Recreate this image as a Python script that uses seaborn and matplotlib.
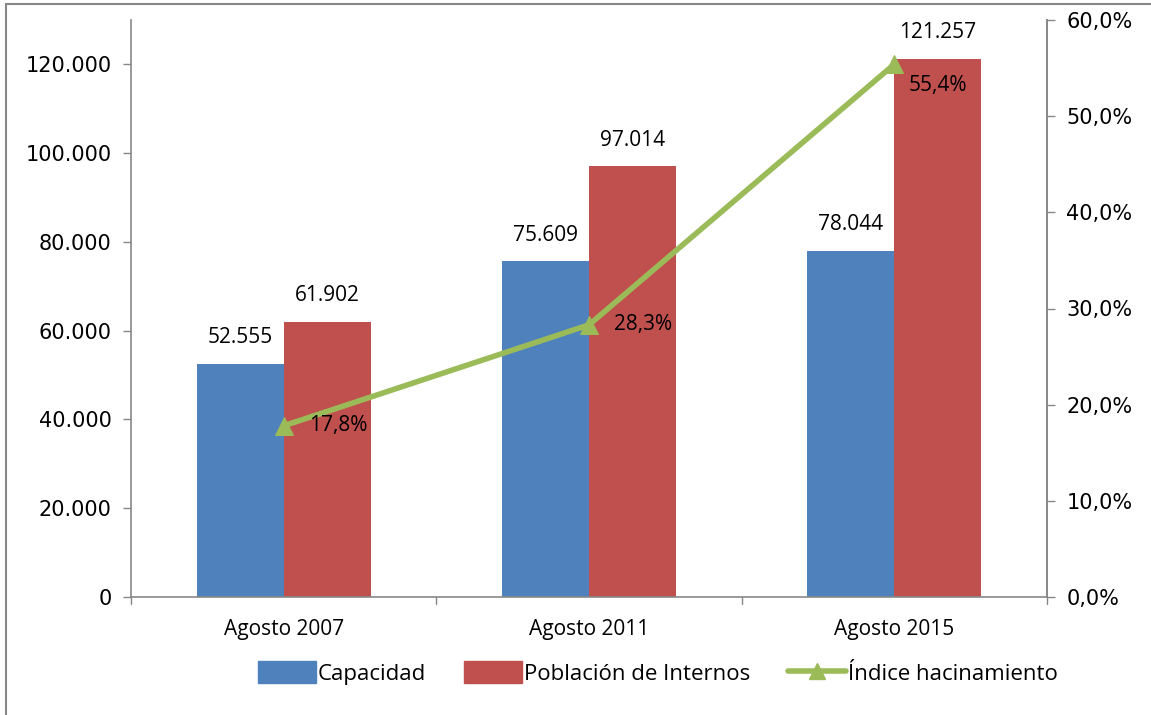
import matplotlib
matplotlib.use("Agg")
import matplotlib.pyplot as plt
from matplotlib.lines import Line2D
from matplotlib.patches import Patch, Rectangle
import seaborn as sns
import pandas as pd

# data
periodos = ["Agosto 2007", "Agosto 2011", "Agosto 2015"]
capacidad = [52555, 75609, 78044]
poblacion = [61902, 97014, 121257]
hacinamiento = [17.8, 28.3, 55.4]
series = ["Capacidad", "Población de Internos"]

BLUE = "#4F81BD"
RED = "#C0504D"
GREEN = "#9BBB59"
GREY = "#878787"

df = pd.DataFrame({
    "periodo": periodos * 2,
    "serie": [series[0]] * 3 + [series[1]] * 3,
    "valor": capacidad + poblacion,
})

sns.set_theme(style="white")
plt.rcParams["font.family"] = ["Open Sans", "DejaVu Sans"]
plt.rcParams["text.color"] = "black"
plt.rcParams["xtick.color"] = "black"
plt.rcParams["ytick.color"] = "black"

fig = plt.figure(figsize=(11.51, 7.15), dpi=100)
ax = fig.add_axes([131 / 1151, 1 - 597 / 715, 916 / 1151, 577 / 715])

sns.barplot(data=df, x="periodo", y="valor", hue="serie", order=periodos,
            hue_order=series, palette=[BLUE, RED], width=0.57, saturation=1,
            linewidth=0, ax=ax, legend=False)
ax.set_xlim(-0.5, 2.5)
ax.set_ylim(0, 130000)
ax.set_yticks(range(0, 130001, 20000))
ax.set_yticklabels([f"{v:,}".replace(",", ".") for v in range(0, 130001, 20000)],
                   fontsize=15, family="DejaVu Sans")
ax.set_xlabel("")
ax.set_ylabel("")
ax.tick_params(axis="x", labelsize=15, length=0, pad=16)
ax.tick_params(axis="y", length=6, width=1, color=GREY, left=True, pad=8)

# bar value labels
for cont in ax.containers:
    for bar in cont:
        h = bar.get_height()
        ax.annotate(f"{int(h):,}".replace(",", "."),
                    (bar.get_x() + bar.get_width() / 2, h),
                    xytext=(0, 19), textcoords="offset points",
                    ha="center", va="center", fontsize=15)

# category boundary ticks on the x axis
for xb in [-0.5, 0.5, 1.5, 2.5]:
    ax.plot([xb, xb], [0, -0.012], transform=ax.get_xaxis_transform(),
            color=GREY, lw=1, clip_on=False)

ax.spines["top"].set_visible(False)
for s in ["left", "bottom", "right"]:
    ax.spines[s].set_color(GREY)
    ax.spines[s].set_linewidth(1.2)

ax2 = ax.twinx()
sns.lineplot(x=[0, 1, 2], y=hacinamiento, color=GREEN, lw=4, marker="^",
             markersize=13, markeredgecolor=GREEN, ax=ax2)
ax2.set_ylim(0, 60)
ax2.set_yticks(range(0, 61, 10))
ax2.set_yticklabels([f"{v:.1f}%".replace(".", ",") for v in range(0, 61, 10)],
                    fontsize=15, family="DejaVu Sans")
ax2.tick_params(axis="y", length=6, width=1, color=GREY, right=True, pad=8)
ax2.grid(False)
ax.grid(False)
for s in ["top", "left", "bottom"]:
    ax2.spines[s].set_visible(False)
ax2.spines["right"].set_color(GREY)
ax2.spines["right"].set_linewidth(1.2)

offsets = [(18, 0), (18, 0), (10, -15)]
for i, v in enumerate(hacinamiento):
    ax2.annotate(f"{v:.1f}%".replace(".", ","), (i, v), xytext=offsets[i],
                 textcoords="offset points", ha="left", va="center", fontsize=15)

handles = [Patch(color=BLUE), Patch(color=RED),
           Line2D([], [], color=GREEN, lw=4, marker="^", markersize=12)]
fig.legend(handles, ["Capacidad", "Población de Internos", "Índice hacinamiento"],
           loc="center", bbox_to_anchor=(658 / 1151, 1 - 673 / 715), ncol=3,
           frameon=False, fontsize=16, handlelength=2.6, handleheight=1.1,
           handletextpad=0.1, columnspacing=1.7)

# outer chart border
fig.patches.append(Rectangle((6 / 1151, -0.02), 1.1, 1 - 4 / 715 + 0.02,
                             transform=fig.transFigure, fill=False,
                             edgecolor=GREY, lw=1.5))

fig.savefig("out.png", dpi=100)
